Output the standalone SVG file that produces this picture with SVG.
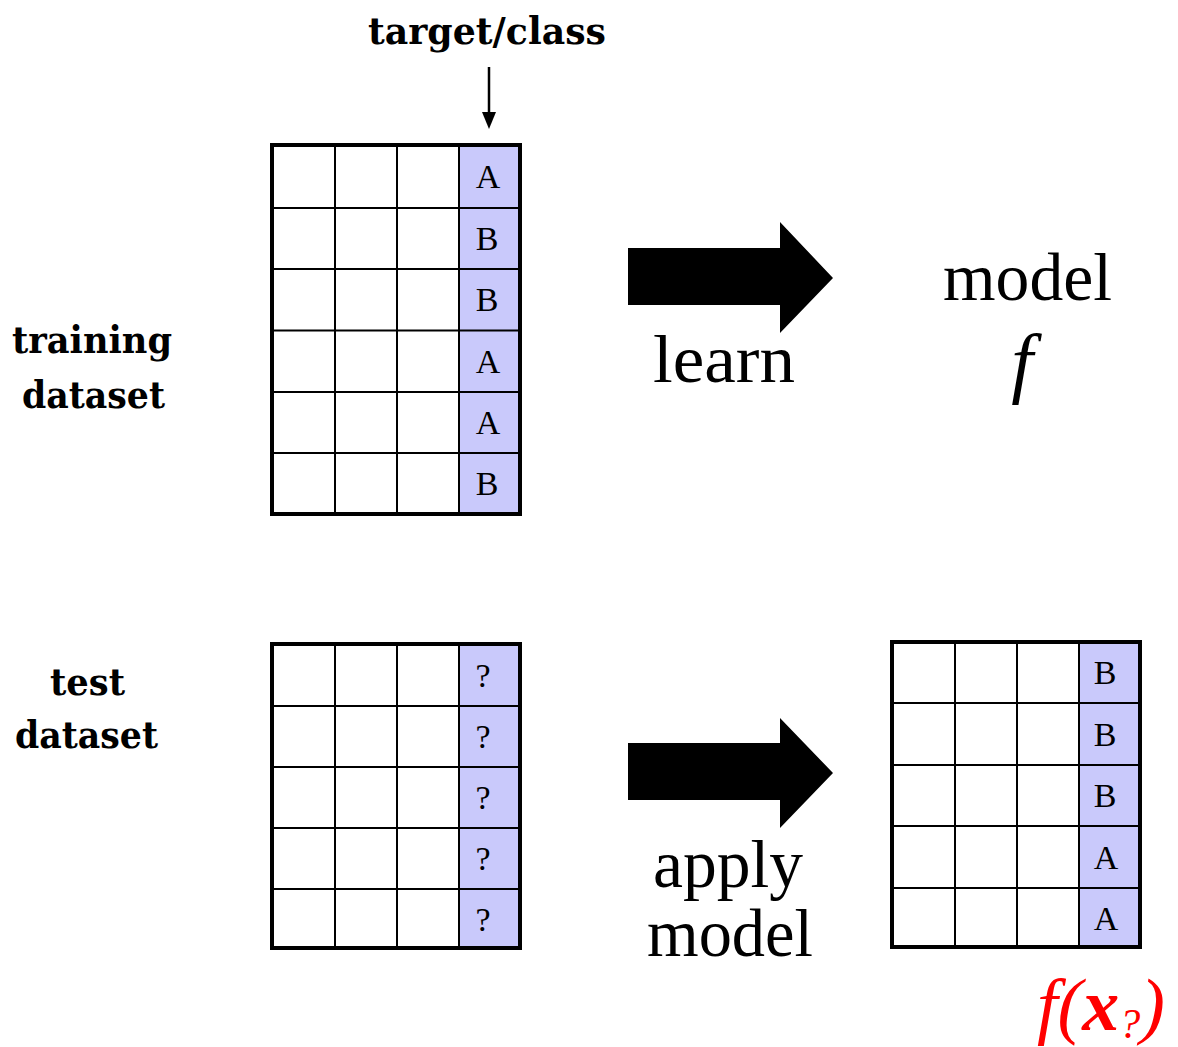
<svg xmlns="http://www.w3.org/2000/svg" width="1178" height="1047" viewBox="0 0 1178 1047">
<style>
.outer{fill:none;stroke:#000;stroke-width:4}
.grid{stroke:#000;stroke-width:2;fill:none}
.cls{fill:#c9c9fb}
.cell{font-family:"Liberation Serif","Times New Roman",serif;font-size:34px;fill:#000;text-anchor:middle}
.lbl{font-family:"DejaVu Serif",serif;font-weight:bold;font-size:38px;fill:#000}
.big{font-family:"Liberation Serif","Times New Roman",serif;font-size:68px;fill:#000}
</style>
<rect width="1178" height="1047" fill="#fff"/>
<g id="target-label">
<text class="lbl" x="368" y="44" textLength="238" lengthAdjust="spacingAndGlyphs">target/class</text>
</g>
<g id="connectors">
<line x1="489" y1="67" x2="489" y2="114" stroke="#000" stroke-width="2.5"/>
<polygon points="482,112 496,112 489,129" fill="#000"/>
<polygon id="learn-arrow" points="628,248 780,248 780,222 833,278 780,333 780,305 628,305" fill="#000"/>
<polygon id="apply-arrow" points="628,743 780,743 780,718 833,773 780,828 780,800 628,800" fill="#000"/>
</g>
<g id="training-table">
<rect class="cls" x="460" y="145" width="60" height="369"/>
<path class="grid" d="M335,145V514M397,145V514M459,145V514M272,208H520M272,269H520M272,330.5H520M272,392H520M272,453H520"/>
<rect class="outer" x="272" y="145" width="248" height="369"/>
<text class="cell" x="488" y="188">A</text>
<text class="cell" x="487" y="250">B</text>
<text class="cell" x="487" y="311">B</text>
<text class="cell" x="488" y="373">A</text>
<text class="cell" x="488" y="434">A</text>
<text class="cell" x="487" y="495">B</text>
</g>
<g id="training-label">
<text class="lbl" x="12" y="353" textLength="160" lengthAdjust="spacingAndGlyphs">training</text>
<text class="lbl" x="22" y="408" textLength="143" lengthAdjust="spacingAndGlyphs">dataset</text>
</g>
<g id="learn-label">
<text class="big" x="653" y="382" textLength="142" lengthAdjust="spacingAndGlyphs">learn</text>
</g>
<g id="model">
<text class="big" x="943" y="300" textLength="169" lengthAdjust="spacingAndGlyphs">model</text>
<text x="1022" y="388" font-family="Liberation Serif, serif" font-style="italic" font-size="78" text-anchor="middle">f</text>
</g>
<g id="test-table">
<rect class="cls" x="460" y="644" width="60" height="304"/>
<path class="grid" d="M335,644V948M397,644V948M459,644V948M272,706H520M272,767H520M272,828H520M272,889H520"/>
<rect class="outer" x="272" y="644" width="248" height="304"/>
<text class="cell" x="483" y="687">?</text>
<text class="cell" x="483" y="748">?</text>
<text class="cell" x="483" y="809">?</text>
<text class="cell" x="483" y="870">?</text>
<text class="cell" x="483" y="931">?</text>
</g>
<g id="test-label">
<text class="lbl" x="50" y="695" textLength="75" lengthAdjust="spacingAndGlyphs">test</text>
<text class="lbl" x="15" y="748" textLength="143" lengthAdjust="spacingAndGlyphs">dataset</text>
</g>
<g id="apply-label">
<text class="big" x="653" y="887" font-size="60" textLength="150" lengthAdjust="spacingAndGlyphs">apply</text>
<text class="big" x="647" y="956" font-size="60" textLength="166" lengthAdjust="spacingAndGlyphs">model</text>
</g>
<g id="result-table">
<rect class="cls" x="1080" y="642" width="60" height="305"/>
<path class="grid" d="M955,642V947M1017,642V947M1079,642V947M892,703H1140M892,765H1140M892,826H1140M892,888H1140"/>
<rect class="outer" x="892" y="642" width="248" height="305"/>
<text class="cell" x="1105" y="684">B</text>
<text class="cell" x="1105" y="746">B</text>
<text class="cell" x="1105" y="807">B</text>
<text class="cell" x="1106" y="869">A</text>
<text class="cell" x="1106" y="930">A</text>
</g>
<g id="fx-label">
<text x="1037" y="1030" font-family="Liberation Serif, serif" font-style="italic" font-size="74" fill="#f00">f(<tspan font-weight="bold">x</tspan><tspan font-size="42" dy="8">?</tspan><tspan dy="-8">)</tspan></text>
</g>
</svg>
